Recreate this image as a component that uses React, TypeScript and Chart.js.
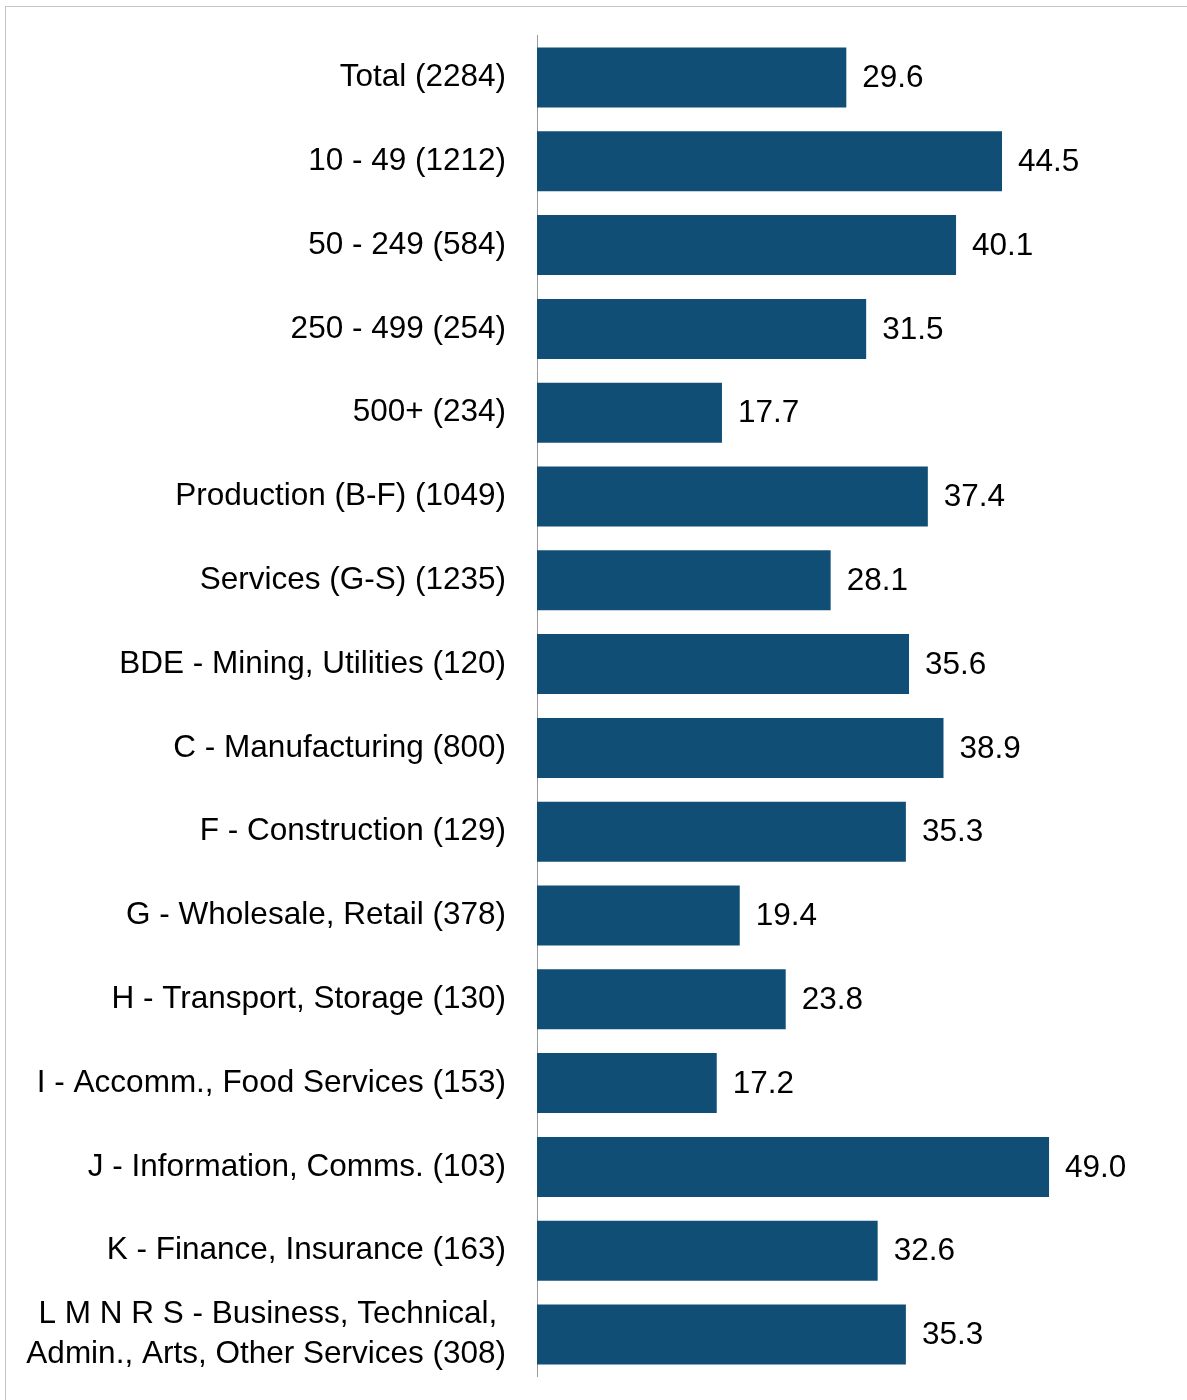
import React, { useEffect, useRef } from "react";
import { Chart, registerables } from "chart.js";

Chart.register(...registerables);

const categories: (string | string[])[] = [
  "Total (2284)",
  "10 - 49 (1212)",
  "50 - 249 (584)",
  "250 - 499 (254)",
  "500+ (234)",
  "Production (B-F) (1049)",
  "Services (G-S) (1235)",
  "BDE - Mining, Utilities (120)",
  "C - Manufacturing (800)",
  "F - Construction (129)",
  "G - Wholesale, Retail (378)",
  "H - Transport, Storage (130)",
  "I - Accomm., Food Services (153)",
  "J - Information, Comms. (103)",
  "K - Finance, Insurance (163)",
  ["L M N R S - Business, Technical, ", "Admin., Arts, Other Services (308)"],
];

const values: number[] = [
  29.6, 44.5, 40.1, 31.5, 17.7, 37.4, 28.1, 35.6, 38.9, 35.3, 19.4, 23.8, 17.2, 49.0, 32.6, 35.3,
];

const FONT = "'Liberation Sans', Arial, 'DejaVu Sans', sans-serif";
const FONT_SIZE = 31.5;

const valueLabels = {
  id: "valueLabels",
  afterDatasetsDraw(chart: any) {
    const ctx = chart.ctx;
    const meta = chart.getDatasetMeta(0);
    ctx.save();
    ctx.font = `${FONT_SIZE}px ${FONT}`;
    ctx.fillStyle = "#000000";
    ctx.textAlign = "left";
    ctx.textBaseline = "middle";
    meta.data.forEach((bar: any, i: number) => {
      ctx.fillText(values[i].toFixed(1), bar.x + 16, bar.y + 1);
    });
    ctx.restore();
  },
};

export default function App() {
  const canvasRef = useRef<HTMLCanvasElement | null>(null);

  useEffect(() => {
    if (!canvasRef.current) return;
    const chart = new Chart(canvasRef.current, {
      type: "bar",
      data: {
        labels: categories,
        datasets: [
          {
            data: values,
            backgroundColor: "#114E75",
            borderWidth: 0,
            barPercentage: 0.716,
            categoryPercentage: 1,
          },
        ],
      },
      options: {
        indexAxis: "y",
        responsive: false,
        animation: false,
        layout: { padding: { top: 35.6, bottom: 23.6, left: 0, right: 23 } },
        plugins: { legend: { display: false }, tooltip: { enabled: false } },
        scales: {
          x: { display: false, min: 0, max: 60 },
          y: {
            afterFit(scale: any) {
              scale.width = 537;
              scale.paddingTop = 0;
              scale.paddingBottom = 0;
            },
            grid: { display: false, drawTicks: false },
            border: { display: true, color: "#9a9a9a", width: 1 },
            ticks: {
              color: "#000000",
              padding: 31,
              font: { family: FONT, size: FONT_SIZE, lineHeight: 40 / FONT_SIZE },
            },
          },
        },
      },
      plugins: [valueLabels],
    });
    return () => chart.destroy();
  }, []);

  return (
    <div
      style={{
        position: "absolute",
        left: 0,
        top: 0,
        width: 1187,
        height: 1400,
        overflow: "hidden",
        background: "#ffffff",
      }}
    >
      <div
        style={{
          position: "absolute",
          left: 5,
          top: 6,
          width: 1300,
          height: 1500,
          border: "1px solid #c4c4c4",
          boxSizing: "border-box",
        }}
      />
      <canvas
        ref={canvasRef}
        width={1187}
        height={1400}
        style={{ position: "absolute", left: 0, top: 0, width: 1187, height: 1400 }}
      />
    </div>
  );
}
